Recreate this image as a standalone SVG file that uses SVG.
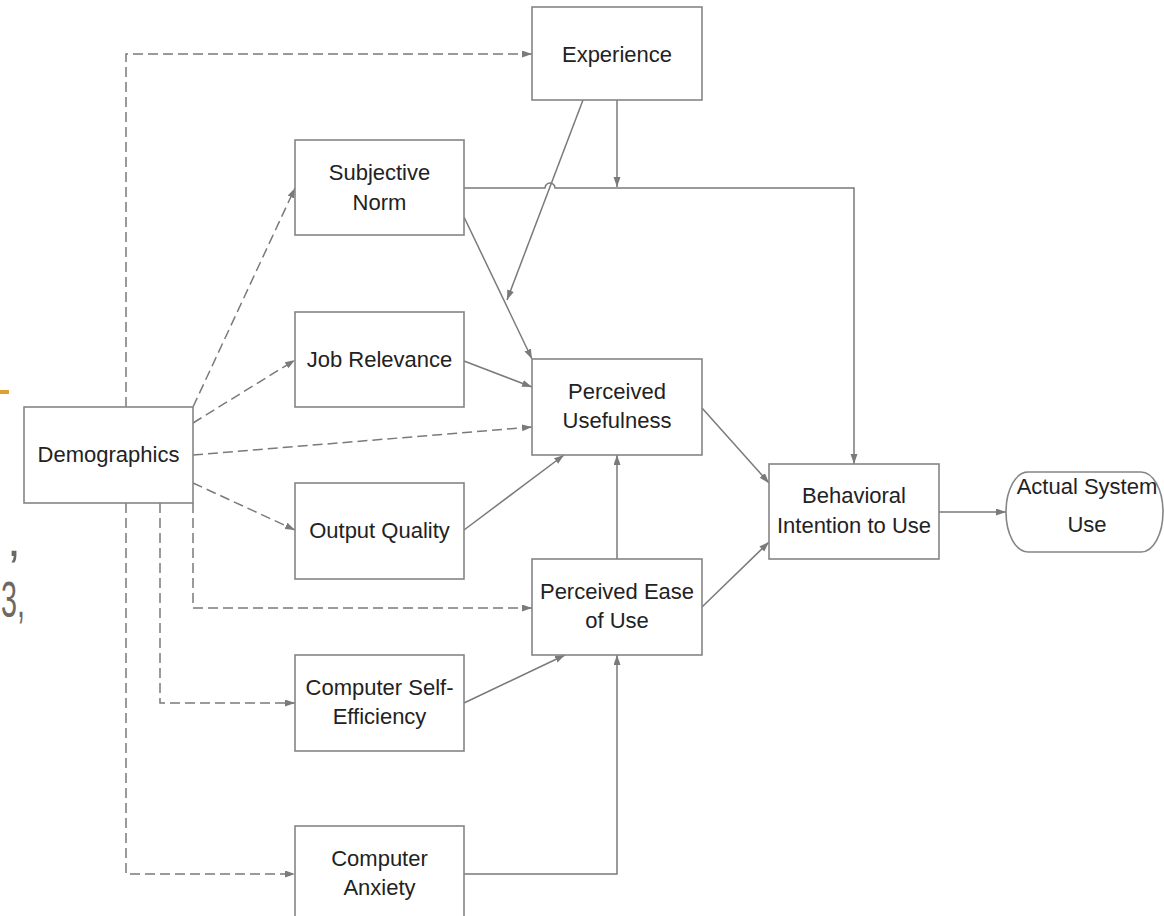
<svg xmlns="http://www.w3.org/2000/svg" width="1164" height="916" viewBox="0 0 1164 916">
<defs>
<style>
.box{fill:#fff;stroke:#858585;stroke-width:1.6}
.lbl{font-family:"Liberation Sans",Arial,sans-serif;font-size:22px;fill:#222;text-anchor:middle}
.ln{fill:none;stroke:#7a7a7a;stroke-width:1.5}
.dash{stroke-dasharray:10,5}
.art{font-family:"Liberation Sans",Arial,sans-serif;font-size:50px;fill:#6e6862}
</style>
<marker id="ah" markerUnits="userSpaceOnUse" markerWidth="11" markerHeight="8" refX="10" refY="3.5" orient="auto">
<path d="M0,0 L10,3.5 L0,7 z" fill="#7a7a7a"/>
</marker>
</defs>
<rect width="1164" height="916" fill="#fff"/>
<g id="slide-remnants">
<rect x="0" y="390" width="9" height="4" fill="#e0a030"/>
<text class="art" x="7" y="556">,</text>
<text class="art" x="1" y="617" textLength="24" lengthAdjust="spacingAndGlyphs">3,</text>
</g>
<g id="connectors">
<path class="ln dash" d="M126,407 V54 H532" marker-end="url(#ah)"/>
<path class="ln dash" d="M193,407 L295,188" marker-end="url(#ah)"/>
<path class="ln dash" d="M193,423 L295,360" marker-end="url(#ah)"/>
<path class="ln dash" d="M193,455 L532,427" marker-end="url(#ah)"/>
<path class="ln dash" d="M193,483 L295,530" marker-end="url(#ah)"/>
<path class="ln dash" d="M193,503 V608 H532" marker-end="url(#ah)"/>
<path class="ln dash" d="M160,503 V703 H295" marker-end="url(#ah)"/>
<path class="ln dash" d="M126,503 V874 H295" marker-end="url(#ah)"/>
<path class="ln" d="M464,188 H545 a5,5 0 0 1 10,0 H854 V464" marker-end="url(#ah)"/>
<path class="ln" d="M617,100 V187" marker-end="url(#ah)"/>
<path class="ln" d="M583,100 L507,300" marker-end="url(#ah)"/>
<path class="ln" d="M464,217 L532,359" marker-end="url(#ah)"/>
<path class="ln" d="M464,361 L532,387" marker-end="url(#ah)"/>
<path class="ln" d="M464,530 L564,455" marker-end="url(#ah)"/>
<path class="ln" d="M617,559 V455" marker-end="url(#ah)"/>
<path class="ln" d="M464,703 L565,655" marker-end="url(#ah)"/>
<path class="ln" d="M464,874 H617 V655" marker-end="url(#ah)"/>
<path class="ln" d="M702,408 L769,483" marker-end="url(#ah)"/>
<path class="ln" d="M702,607 L769,542" marker-end="url(#ah)"/>
<path class="ln" d="M939,512 H1006" marker-end="url(#ah)"/>
</g>
<g id="demographics">
<rect class="box" x="24" y="407" width="169" height="96"/>
<text class="lbl" x="108.5" y="462">Demographics</text>
</g>
<g id="experience">
<rect class="box" x="532" y="7" width="170" height="93"/>
<text class="lbl" x="617" y="62">Experience</text>
</g>
<g id="subjective-norm">
<rect class="box" x="295" y="140" width="169" height="95"/>
<text class="lbl" x="379.5" y="180">Subjective</text>
<text class="lbl" x="379.5" y="210">Norm</text>
</g>
<g id="job-relevance">
<rect class="box" x="295" y="312" width="169" height="95"/>
<text class="lbl" x="379.5" y="367">Job Relevance</text>
</g>
<g id="output-quality">
<rect class="box" x="295" y="483" width="169" height="96"/>
<text class="lbl" x="379.5" y="538">Output Quality</text>
</g>
<g id="computer-self-efficiency">
<rect class="box" x="295" y="655" width="169" height="96"/>
<text class="lbl" x="379.5" y="695">Computer Self-</text>
<text class="lbl" x="379.5" y="724">Efficiency</text>
</g>
<g id="computer-anxiety">
<rect class="box" x="295" y="826" width="169" height="95"/>
<text class="lbl" x="379.5" y="866">Computer</text>
<text class="lbl" x="379.5" y="895">Anxiety</text>
</g>
<g id="perceived-usefulness">
<rect class="box" x="532" y="359" width="170" height="96"/>
<text class="lbl" x="617" y="399">Perceived</text>
<text class="lbl" x="617" y="428">Usefulness</text>
</g>
<g id="perceived-ease-of-use">
<rect class="box" x="532" y="559" width="170" height="96"/>
<text class="lbl" x="617" y="599">Perceived Ease</text>
<text class="lbl" x="617" y="628">of Use</text>
</g>
<g id="behavioral-intention">
<rect class="box" x="769" y="464" width="170" height="95"/>
<text class="lbl" x="854" y="503">Behavioral</text>
<text class="lbl" x="854" y="533">Intention to Use</text>
</g>
<g id="actual-system-use">
<rect class="box" x="1006" y="472" width="157" height="80" rx="22" ry="40"/>
<text class="lbl" x="1087" y="494">Actual System</text>
<text class="lbl" x="1087" y="532">Use</text>
</g>
</svg>
